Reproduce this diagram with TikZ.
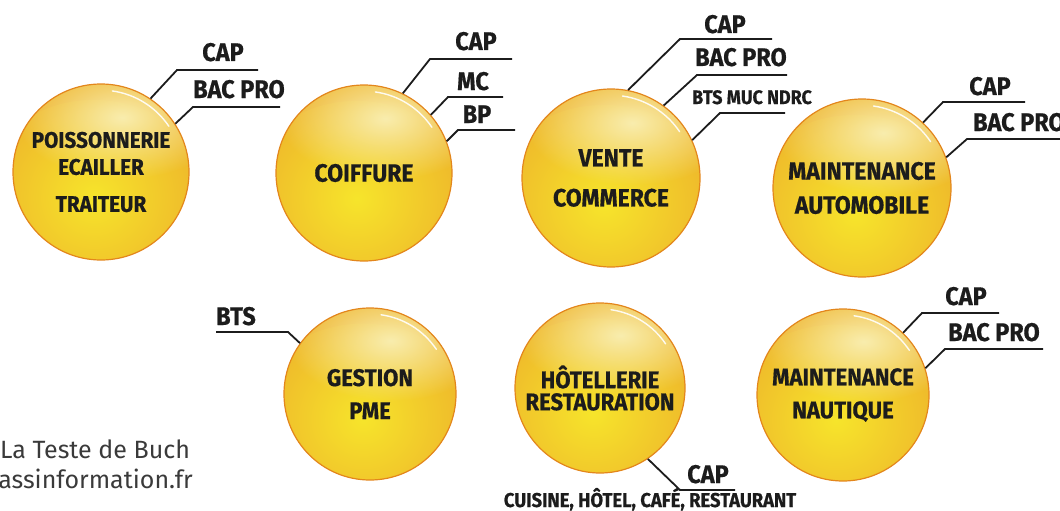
\documentclass[tikz,border=0pt]{standalone}
\usepackage{fontspec}
\setmainfont{Fira Sans}
\newfontfamily\dinfont{Fira Sans}[FakeStretch=0.92, BoldFeatures={FakeBold=0.6}]
\usetikzlibrary{fadings}

\definecolor{bubY}{HTML}{F7E52B}
\definecolor{bubM}{HTML}{EEB42B}
\definecolor{bubO}{HTML}{E99C24}
\definecolor{bubE}{HTML}{E3861C}
\definecolor{bubH}{HTML}{F9EDAE}
\definecolor{ink}{HTML}{1C1C1C}
\definecolor{footgray}{HTML}{3A3A3A}

% fond orange, bord plus fonce
\pgfdeclareradialshading{bubshade}{\pgfpointorigin}{color(0bp)=(bubM); color(26bp)=(bubM); color(39bp)=(bubO); color(46bp)=(bubE); color(50bp)=(bubE)}
% tache douce pour les reflets
\tikzfading[name=softspot, inner color=transparent!0, outer color=transparent!100]

\tikzset{
  bubble/.style={circle, minimum size=2*#1, inner sep=0pt, shade, shading=bubshade,
    draw=bubE, line width=1.2pt, text=ink, align=center,
    font=\fontsize{25}{34}\selectfont\dinfont\bfseries,
    path picture={
      \fill[bubY, path fading=softspot]
        ([xshift=-0.08*#1pt, yshift=-0.38*#1pt]path picture bounding box.center)
        ellipse [x radius=1.35*#1pt, y radius=1.2*#1pt];
      \fill[bubH, path fading=softspot]
        ([xshift=0.24*#1pt, yshift=0.62*#1pt]path picture bounding box.center)
        ellipse [x radius=1.2*#1pt, y radius=0.7*#1pt];
      \draw[white, line width=1.4pt, line cap=round, opacity=.9]
        ([shift={(82:0.93*#1pt)}]path picture bounding box.center)
        arc [start angle=82, end angle=34, radius=0.93*#1pt];
    }},
  lead/.style={line width=1.8pt, ink},
  tag/.style={anchor=base, inner sep=0pt, text=ink, font=\fontsize{25.5}{27}\selectfont\dinfont\bfseries},
  smalltag/.style={tag, font=\fontsize{19.5}{21}\selectfont\dinfont\bfseries},
  foot/.style={inner sep=0pt, text=footgray, font=\fontsize{25}{28}\selectfont}
}

\begin{document}
\begin{tikzpicture}[x=1pt, y=-1pt]
\useasboundingbox (0,0) rectangle (1060,511);

% Poissonnerie
\node[bubble=88, font=\fontsize{22.5}{27}\selectfont\dinfont\bfseries] (poiss) at (101,172)
  {POISSONNERIE\\ECAILLER\\[10pt]TRAITEUR};
\coordinate (p1a) at (177,70);  \coordinate (p1b) at (258,70);
\coordinate (p2a) at (193,107); \coordinate (p2b) at (280,107);
\draw[lead] (poiss.56) -- (p1a) -- (p1b);
\draw[lead] (poiss.33) -- (p2a) -- (p2b);
\node[tag] (poisscap) at (223,61) {CAP};
\node[tag] (poissbac) at (239,98) {BAC PRO};

% Coiffure
\node[bubble=88] (coif) at (364,173) {COIFFURE};
\coordinate (c1a) at (430,59);  \coordinate (c1b) at (512,59);
\coordinate (c2a) at (448,97);  \coordinate (c2b) at (503,97);
\coordinate (c3a) at (458,130); \coordinate (c3b) at (515,130);
\draw[lead] (coif.64) -- (c1a) -- (c1b);
\draw[lead] (coif.41) -- (c2a) -- (c2b);
\draw[lead] (coif.21) -- (c3a) -- (c3b);
\node[tag] (coifcap) at (476,50) {CAP};
\node[tag] (coifmc) at (473,90) {MC};
\node[tag] (coifbp) at (477,123) {BP};

% Vente commerce
\node[bubble=89, font=\fontsize{25}{34}\selectfont\dinfont\bfseries] (vente) at (611,178)
  {VENTE\\[6pt]COMMERCE};
\coordinate (v1a) at (680,39);  \coordinate (v1b) at (772,39);
\coordinate (v2a) at (697,75);  \coordinate (v2b) at (787,75);
\coordinate (v3a) at (720,113); \coordinate (v3b) at (785,113);
\draw[lead] (vente.79) -- (v1a) -- (v1b);
\draw[lead] (vente.54) -- (v2a) -- (v2b);
\draw[lead] (vente.25) -- (v3a) -- (v3b);
\node[tag] (ventecap) at (725,33) {CAP};
\node[tag] (ventebac) at (741,66) {BAC PRO};
\node[smalltag] (ventebts) at (752,104) {BTS MUC NDRC};

% Maintenance automobile
\node[bubble=89, font=\fontsize{25}{34}\selectfont\dinfont\bfseries] (auto) at (862,188)
  {MAINTENANCE\\AUTOMOBILE};
\coordinate (a1a) at (943,102); \coordinate (a1b) at (1025,102);
\coordinate (a2a) at (967,139); \coordinate (a2b) at (1062,139);
\draw[lead] (auto.47) -- (a1a) -- (a1b);
\draw[lead] (auto.20) -- (a2a) -- (a2b);
\node[tag] (autocap) at (990,95) {CAP};
\node[tag, anchor=base west] (autobac) at (973,131) {BAC PRO};

% Gestion PME
\node[bubble=86, font=\fontsize{24}{33}\selectfont\dinfont\bfseries] (gest) at (370,394)
  {GESTION\\PME};
\coordinate (g1a) at (288,332); \coordinate (g1b) at (216,332);
\draw[lead] (gest.144) -- (g1a) -- (g1b);
\node[tag] (gestbts) at (236,325) {BTS};

% Hotellerie restauration
\node[bubble=85, font=\fontsize{24}{22}\selectfont\dinfont\bfseries] (hotel) at (600,388)
  {HÔTELLERIE\\RESTAURATION};
\coordinate (h1a) at (680,490); \coordinate (h1b) at (735,490);
\draw[lead] (hotel.-56) -- (h1a) -- (h1b);
\node[tag] (hotelcap) at (708,483) {CAP};
\node[smalltag, font=\fontsize{20}{21}\selectfont\dinfont\bfseries] (hotelsub) at (650,507)
  {CUISINE, HÔTEL, CAFÉ, RESTAURANT};

% Maintenance nautique
\node[bubble=86, font=\fontsize{24}{33}\selectfont\dinfont\bfseries] (naut) at (843,395)
  {MAINTENANCE\\NAUTIQUE};
\coordinate (n1a) at (922,313); \coordinate (n1b) at (999,313);
\coordinate (n2a) at (945,349); \coordinate (n2b) at (1043,349);
\draw[lead] (naut.46) -- (n1a) -- (n1b);
\draw[lead] (naut.18) -- (n2a) -- (n2b);
\node[tag] (nautcap) at (966,305) {CAP};
\node[tag] (nautbac) at (994,341) {BAC PRO};

% Pied de page
\node[foot, anchor=base west] (town) at (0,458) {La Teste de Buch};
\node[foot, anchor=base east] (site) at (193,488) {assinformation.fr};

\end{tikzpicture}
\end{document}
